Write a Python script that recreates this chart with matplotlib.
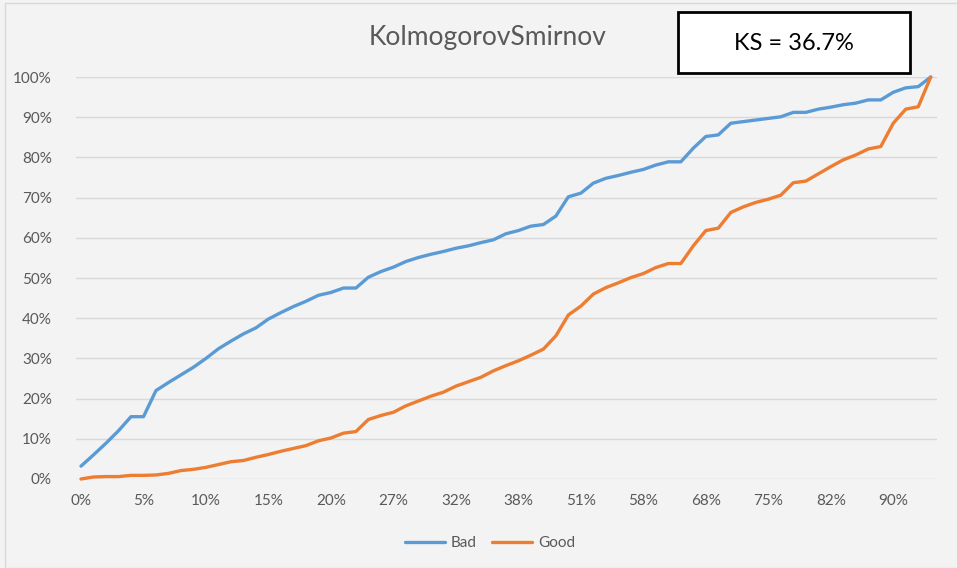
import numpy as np
import matplotlib
matplotlib.use('Agg')
import matplotlib.pyplot as plt
from matplotlib.patches import Rectangle

plt.rcParams['font.family'] = ['Lato', 'DejaVu Sans']

# cumulative % of bads / goods per score bucket
bad = [3.2, 6.0, 8.9, 12.0, 15.5, 15.5, 22.0, 24.0, 25.9, 27.8,
       30.0, 32.4, 34.3, 36.1, 37.6, 39.8, 41.4, 42.9, 44.2, 45.7,
       46.4, 47.5, 47.5, 50.2, 51.6, 52.7, 54.1, 55.1, 55.9, 56.6,
       57.4, 58.0, 58.8, 59.5, 61.0, 61.8, 62.9, 63.3, 65.4, 70.2,
       71.1, 73.6, 74.8, 75.5, 76.3, 77.0, 78.1, 78.9, 78.9, 82.3,
       85.2, 85.6, 88.5, 88.9, 89.3, 89.7, 90.1, 91.2, 91.2, 92.0,
       92.5, 93.1, 93.5, 94.3, 94.3, 96.2, 97.3, 97.6, 100.0]
good = [0.0, 0.5, 0.6, 0.6, 0.9, 0.9, 1.0, 1.4, 2.1, 2.4,
        2.9, 3.6, 4.3, 4.6, 5.4, 6.1, 6.9, 7.6, 8.3, 9.5,
        10.2, 11.4, 11.8, 14.8, 15.8, 16.6, 18.2, 19.4, 20.6, 21.6,
        23.1, 24.2, 25.3, 26.9, 28.2, 29.4, 30.8, 32.3, 35.6, 40.8,
        43.0, 46.0, 47.6, 48.8, 50.1, 51.1, 52.6, 53.6, 53.6, 58.0,
        61.8, 62.4, 66.3, 67.7, 68.8, 69.6, 70.6, 73.7, 74.1, 75.9,
        77.7, 79.4, 80.6, 82.1, 82.7, 88.5, 92.0, 92.6, 100.0]
tick_labels = ['0%', '5%', '10%', '15%', '20%', '27%', '32%', '38%',
               '51%', '58%', '68%', '75%', '82%', '90%']
tick_step = 5
ks_text = 'KS = 36.7%'

W, H = 957, 568
fig = plt.figure(figsize=(W / 100, H / 100), dpi=100, facecolor='#f3f3f3')
fig.patches.append(Rectangle((5 / W, 0), 1, 1 - 3 / H, transform=fig.transFigure,
                             fill=False, edgecolor='#d9d9d9', linewidth=1))

ax = fig.add_axes([75.5 / W, (H - 479) / H, (937 - 75.5) / W, (479 - 77) / H])
ax.set_facecolor('#f3f3f3')

x = np.arange(len(bad))
ax.plot(x, bad, color='#5b9bd5', linewidth=2.4, label='Bad', clip_on=False,
        solid_capstyle='round', solid_joinstyle='round')
ax.plot(x, good, color='#ed7d31', linewidth=2.4, label='Good', clip_on=False,
        solid_capstyle='round', solid_joinstyle='round')

ax.set_xlim(-0.44, len(bad) - 0.5)
ax.set_ylim(0, 100)
ax.set_yticks(np.arange(0, 101, 10))
ax.set_yticklabels([f'{v}%' for v in range(0, 101, 10)])
ax.set_xticks(x[::tick_step])
ax.set_xticklabels(tick_labels)
ax.grid(axis='y', color='#d9d9d9', linewidth=1)
ax.set_axisbelow(True)
for s in ax.spines.values():
    s.set_visible(False)
ax.tick_params(length=0, labelsize=11, colors='#595959')
ax.tick_params(axis='y', pad=17)
ax.tick_params(axis='x', pad=11)

fig.text(488 / W, 1 - 38 / H, 'KolmogorovSmirnov', ha='center', va='center',
         fontsize=19, color='#595959')

fig.patches.append(Rectangle((678 / W, 1 - 73 / H), (910 - 678) / W, (73 - 12) / H,
                             transform=fig.transFigure, facecolor='white',
                             edgecolor='black', linewidth=2))
fig.text(794 / W, 1 - 43 / H, ks_text, ha='center', va='center', fontsize=17, color='black')

fig.legend(loc='center', bbox_to_anchor=(490 / W, 1 - 543 / H), ncol=2, frameon=False,
           fontsize=11, labelcolor='#595959', handlelength=2.6, columnspacing=1.0,
           handletextpad=0.4)

plt.savefig('out.png', dpi=100, facecolor=fig.get_facecolor())
